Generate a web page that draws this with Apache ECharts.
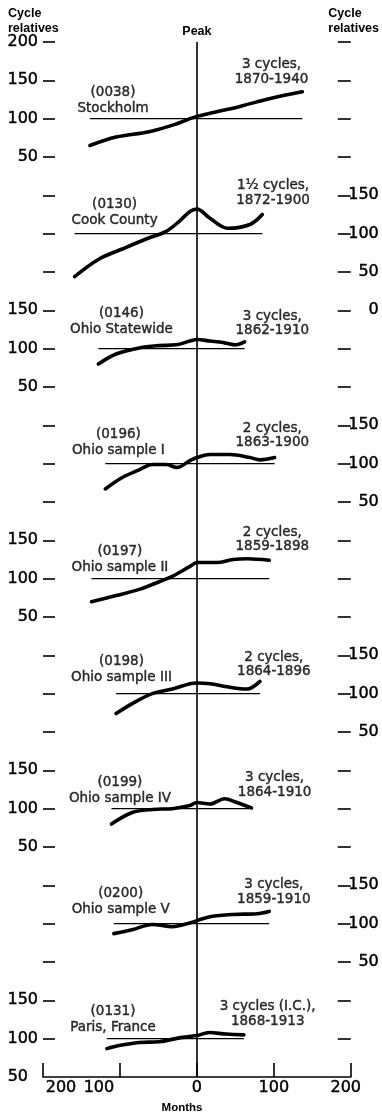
<!DOCTYPE html>
<html><head><meta charset="utf-8">
<script src="https://cdn.jsdelivr.net/npm/echarts@6/dist/echarts.min.js"></script>
<style>html,body{margin:0;padding:0;background:#fff}#c{width:382px;height:1115px}</style>
</head><body><div id="c"></div>
<script>
// ---- data ----
const panelCodes = ['(0038)', '(0130)', '(0146)', '(0196)', '(0197)', '(0198)', '(0199)', '(0200)', '(0131)'];
const panelNames = ['Stockholm', 'Cook County', 'Ohio Statewide', 'Ohio sample I', 'Ohio sample II',
  'Ohio sample III', 'Ohio sample IV', 'Ohio sample V', 'Paris, France'];
const cycleNotes = ['3 cycles,\n1870-1940', '1½ cycles,\n1872-1900', '3 cycles,\n1862-1910', '2 cycles,\n1863-1900',
  '2 cycles,\n1859-1898', '2 cycles,\n1864-1896', '3 cycles,\n1864-1910', '3 cycles,\n1859-1910', '3 cycles (I.C.),\n1868-1913'];

const stockholmMonths = [-139, -105, -62, -27, -9, 0, 17, 56, 94, 137];
const stockholmValues = [65, 76, 83, 93, 100, 103, 107, 116, 126, 135];
const cookMonths = [-159, -127, -97, -66, -40, -23, -9, 0, 17, 40, 69, 85];
const cookValues = [44, 67, 80, 93, 103, 116, 129, 132, 120, 107, 112, 125];
const statewideMonths = [-128, -105, -75, -49, -27, -9, 0, 17, 34, 49, 62];
const statewideValues = [80, 93, 101, 104, 105, 110, 112, 110, 108, 105, 109];
const ohio1Months = [-119, -97, -75, -58, -40, -26, -9, 0, 17, 43, 69, 82, 101];
const ohio1Values = [67, 82, 92, 99, 99, 95, 104, 108, 112, 112, 108, 105, 108];
const ohio2Months = [-137, -105, -75, -49, -32, -9, 0, 26, 47, 66, 94];
const ohio2Values = [70, 78, 86, 96, 103, 116, 121, 121, 125, 126, 124];
const ohio3Months = [-105, -84, -58, -32, -9, 0, 17, 39, 65, 82];
const ohio3Values = [74, 87, 100, 106, 113, 114, 113, 109, 106, 116];
const ohio4Months = [-111, -84, -58, -32, -9, 0, 17, 36, 52, 71];
const ohio4Values = [80, 95, 99, 100, 104, 108, 106, 113, 108, 101];
const ohio5Months = [-108, -84, -58, -32, -9, 0, 17, 47, 78, 94];
const ohio5Values = [87, 92, 99, 96, 101, 104, 109, 112, 113, 116];
const parisMonths = [-117, -101, -75, -49, -23, 0, 16, 38, 61];
const parisValues = [87, 91, 95, 96, 101, 104, 108, 106, 105];

const baselineValue = 100;
const leftTickLabels = ['200', '150', '100', '50', '', '', '', '150', '100', '50', '', '', '', '150', '100', '50',
  '', '', '', '150', '100', '50', '', '', '', '150', '100', '50'];
const rightTickLabels = ['', '', '', '', '150', '100', '50', '0', '', '', '150', '100', '50', '', '', '',
  '150', '100', '50', '', '', '', '150', '100', '50', '', ''];
const xTickLabels = ['200', '100', '0', '100', '200'];

// ---- layout (positions of annotation blocks, in months / cycle-relative units of each panel) ----
const leftNotePos = [[-109, 124], [-107, 127], [-98, 135], [-102, 127], [-100, 125], [-98, 131], [-100, 124], [-99, 129], [-109, 125]];
const rightNotePos = [[97, 161], [99, 153], [98, 133], [98, 137], [98, 151], [100, 138], [101, 131], [100, 141], [92, 132]];
const xLabelShift = [18, -21, 0, 0, -5]; // px, horizontal nudge of each month label as printed
const cornerLabelShift = 10;              // px, bottom-left "50" sits left of the axis corner

const panelOffset = 150;
const yTop = 200, yStep = 50, nTicks = 28;
const yBottom = yTop - yStep * (nTicks - 1);

const seriesMonths = [stockholmMonths, cookMonths, statewideMonths, ohio1Months, ohio2Months, ohio3Months, ohio4Months, ohio5Months, parisMonths];
const seriesValues = [stockholmValues, cookValues, statewideValues, ohio1Values, ohio2Values, ohio3Values, ohio4Values, ohio5Values, parisValues];

const tickIndex = v => Math.round((yTop - v) / yStep);
const tickVals = [];
for (let i = 0; i < nTicks; i++) tickVals.push(yTop - i * yStep);

const INK = '#000';
const series = [];
seriesMonths.forEach((months, k) => {
  const off = -panelOffset * k;
  series.push({
    type: 'line', silent: true, symbol: 'none', z: 2,
    data: [[months[0], baselineValue + off], [months[months.length - 1], baselineValue + off]],
    lineStyle: { color: INK, width: 1.1 },
    markLine: k === 0 ? {
      silent: true, symbol: 'none', animation: false,
      lineStyle: { color: INK, width: 1.6, type: 'solid' },
      label: { show: true, position: 'end', formatter: 'Peak', color: INK, distance: 4,
        fontFamily: 'Liberation Sans', fontWeight: 'bold', fontSize: 12.5 },
      data: [{ xAxis: 0 }]
    } : undefined
  });
  series.push({
    type: 'line', silent: true, symbol: 'none', smooth: 0.35, z: 3,
    data: months.map((m, i) => [m, seriesValues[k][i] + off]),
    lineStyle: { color: INK, width: 3.6, cap: 'round', join: 'round' }
  });
});

const noteStyle = { fontFamily: 'DejaVu Sans', fontSize: 13.5, color: INK, textBorderColor: INK, textBorderWidth: 0.45 };
series.push({
  type: 'scatter', silent: true, symbolSize: 0, z: 5,
  data: panelCodes.map((c, k) => ({
    value: [leftNotePos[k][0], leftNotePos[k][1] - panelOffset * k],
    label: { formatter: c + '\n' + panelNames[k], lineHeight: 16 }
  })).concat(cycleNotes.map((t, k) => ({
    value: [rightNotePos[k][0], rightNotePos[k][1] - panelOffset * k],
    label: { formatter: t, lineHeight: 14.5 }
  }))),
  label: Object.assign({ show: true, position: 'inside', align: 'center', verticalAlign: 'middle' }, noteStyle)
});

const tickFont = { fontFamily: 'DejaVu Sans', fontSize: 16, color: INK, textBorderColor: INK, textBorderWidth: 0.45 };
const rich = {};
xLabelShift.forEach((s, i) => {
  rich['x' + i] = Object.assign({ padding: s >= 0 ? [0, 0, 0, 2 * s] : [0, -2 * s, 0, 0] }, tickFont);
});
const chart = echarts.init(document.getElementById('c'));
chart.setOption({
  animation: false,
  backgroundColor: '#fff',
  grid: { left: 43, right: 30, top: 42, bottom: 38, containLabel: false },
  xAxis: {
    type: 'value', min: -200, max: 200, interval: 100,
    axisLine: { show: true, onZero: false, lineStyle: { color: INK, width: 1.6 } },
    axisTick: { show: true, inside: true, length: 14, lineStyle: { color: INK, width: 1.6 } },
    axisLabel: Object.assign({ margin: 3, rich: rich, formatter: v => {
      const i = Math.round((v + 200) / 100);
      return '{x' + i + '|' + xTickLabels[i] + '}';
    } }, tickFont),
    splitLine: { show: false }
  },
  yAxis: [{
    type: 'value', min: yBottom, max: yTop, interval: yStep,
    axisLine: { show: false, onZero: false },
    axisTick: { show: true, inside: true, length: 12, lineStyle: { color: INK, width: 1.6 }, customValues: tickVals.slice(0, nTicks - 1) },
    axisLabel: Object.assign({ margin: 5,
      rich: { c: Object.assign({ padding: [0, cornerLabelShift, 0, 0] }, tickFont) },
      formatter: v => {
        const i = tickIndex(v);
        const t = leftTickLabels[i] || '';
        return (i === nTicks - 1 && t) ? '{c|' + t + '}' : t;
      } }, tickFont),
    splitLine: { show: false }
  }, {
    type: 'value', position: 'right', min: yBottom, max: yTop, interval: yStep,
    axisLine: { show: false, onZero: false },
    axisTick: { show: true, inside: true, length: 13, lineStyle: { color: INK, width: 1.6 }, customValues: tickVals.slice(0, nTicks - 1) },
    axisLabel: Object.assign({ margin: 28, align: 'right', formatter: v => rightTickLabels[tickIndex(v)] || '' }, tickFont),
    splitLine: { show: false }
  }],
  graphic: [
    { type: 'text', left: 8, top: 6, style: { text: 'Cycle\nrelatives', fill: INK, font: 'bold 12.5px "Liberation Sans"', lineHeight: 15, align: 'left' } },
    { type: 'text', right: 3, top: 6, style: { text: 'Cycle\nrelatives', fill: INK, font: 'bold 12.5px "Liberation Sans"', lineHeight: 15, align: 'right' } },
    { type: 'text', x: 182, y: 1108, style: { text: 'Months', fill: INK, font: 'bold 11.5px "Liberation Sans"', align: 'center', verticalAlign: 'middle' } }
  ],
  series: series
});
</script></body></html>
